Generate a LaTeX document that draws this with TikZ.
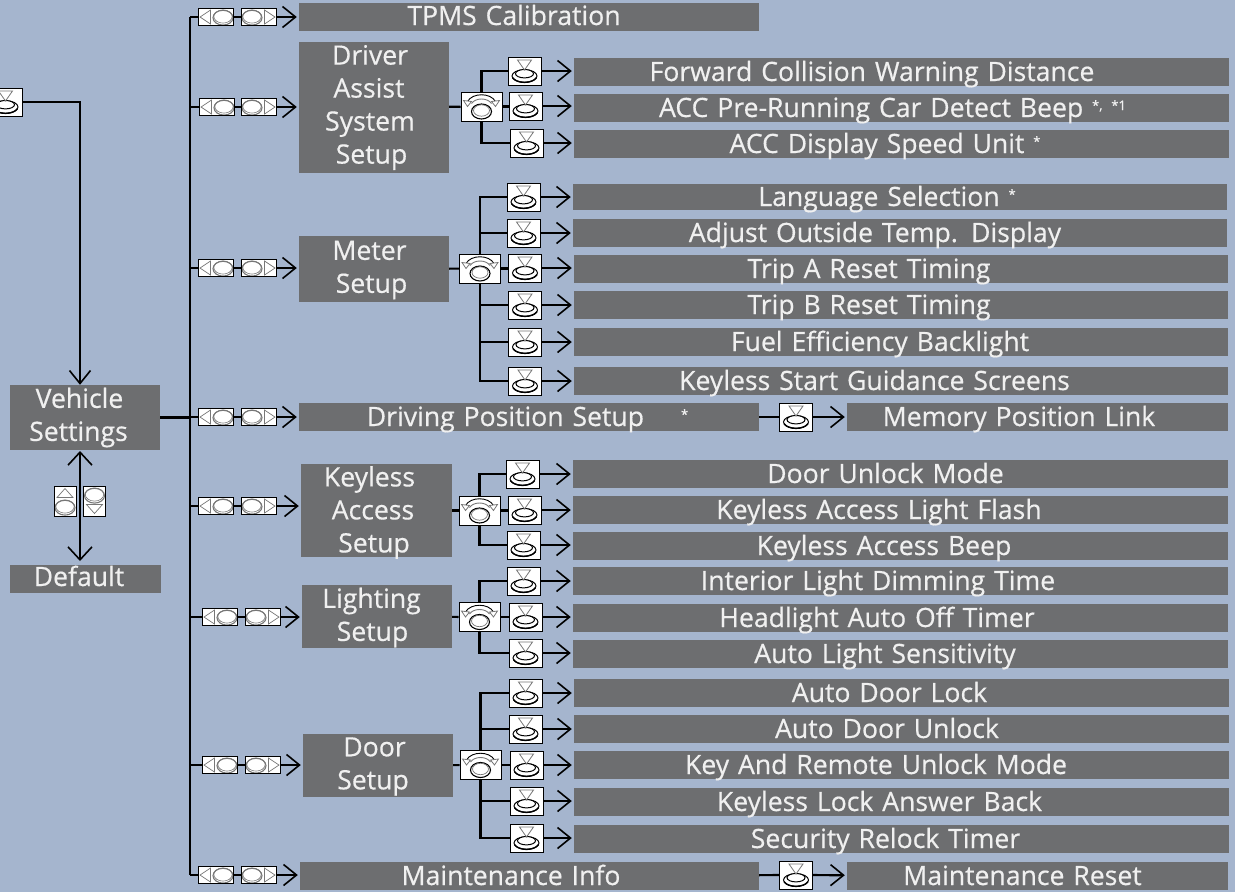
\documentclass[tikz,border=0pt]{standalone}
\usepackage{fontspec}
\setmainfont{Open Sans}
\usetikzlibrary{arrows.meta}
\definecolor{bgc}{HTML}{A5B5CE}
\definecolor{barc}{HTML}{6D6E70}
\definecolor{txtc}{HTML}{F0F0F0}
\definecolor{icog}{HTML}{777777}
\newcommand{\icoPress}{\begin{scope}[shift={(path picture bounding box.center)}]
 \draw[black,line width=1pt] (0,5) ellipse (12.5 and 6.3);
 \draw[black,line width=1.4pt] (-12,6.5) .. controls (-8,13) and (8,13) .. (12,6.5);
 \draw[black,line width=1pt,fill=white] (0,2.7) ellipse (9 and 4.2);
 \draw[icog,line width=.8pt,fill=white] (-7,-11) -- (7,-11) -- (0,-1) -- cycle;
 \end{scope}}
\newcommand{\icoKnob}{\begin{scope}[shift={(path picture bounding box.center)}]
 \draw[black,line width=1.1pt] (0,5) ellipse (10 and 7.5);
 \draw[icog,line width=.7pt] (0,4) ellipse (8 and 5.7);
 \draw[black,line width=.9pt] (-14,-5) .. controls (-9,-14) and (9,-14) .. (14,-5);
 \draw[icog,line width=.9pt] (-10,-3) .. controls (-6,-9) and (6,-9) .. (10,-3);
 \draw[icog,line width=.8pt,fill=white] (-18,-6) -- (-10,-5) -- (-14,0) -- cycle;
 \draw[icog,line width=.8pt,fill=white] (18,-6) -- (10,-5) -- (14,0) -- cycle;
 \end{scope}}
\newcommand{\icoOval}[2]{%
 \draw[icog,line width=1.1pt] (#1,#2+.7) ellipse (10 and 7.4);
 \draw[icog,line width=.6pt] (#1,#2-.5) ellipse (9.2 and 6.6);}
\newcommand{\icoL}{\begin{scope}[shift={(path picture bounding box.center)}]
 \draw[icog,line width=.7pt] (-5.5,-7) -- (-16,0) -- (-5.5,7) -- cycle;\icoOval{7}{0}\end{scope}}
\newcommand{\icoR}{\begin{scope}[shift={(path picture bounding box.center)}]
 \draw[icog,line width=.7pt] (5.5,-7) -- (16,0) -- (5.5,7) -- cycle;\icoOval{-7}{0}\end{scope}}
\newcommand{\icoU}{\begin{scope}[shift={(path picture bounding box.center)}]
 \draw[icog,line width=.7pt] (-8,-3.5) -- (0,-12.5) -- (8,-3.5) -- cycle;\icoOval{0}{6}\end{scope}}
\newcommand{\icoD}{\begin{scope}[shift={(path picture bounding box.center)}]
 \draw[icog,line width=.7pt] (-8,3.5) -- (0,12.5) -- (8,3.5) -- cycle;\icoOval{0}{-6}\end{scope}}
\tikzset{
 x=1pt,y=-1pt,
 link/.style={line width=2.2pt,black},
 toarrow/.style={link,-{Straight Barb[length=13pt,width=21pt,line width=1.6pt]},shorten >=2pt},
 icon/.style={draw=black,line width=1pt,fill=white,inner sep=0pt},
 press/.style={icon,minimum width=33pt,minimum height=28pt,path picture={\icoPress}},
 knob/.style={icon,minimum width=41pt,minimum height=29pt,path picture={\icoKnob}},
 btnl/.style={icon,minimum width=35pt,minimum height=17pt,path picture={\icoL}},
 btnr/.style={icon,minimum width=35pt,minimum height=17pt,path picture={\icoR}},
 btnu/.style={icon,minimum width=22pt,minimum height=30pt,path picture={\icoU}},
 btnd/.style={icon,minimum width=22pt,minimum height=30pt,path picture={\icoD}},
 bar/.style={fill=barc,text=txtc,inner sep=0pt,align=center,font=\fontsize{26.6}{33}\selectfont\addfontfeatures{FakeBold=0.5}},
}
% name, x1, y1, x2, y2, text
\newcommand{\barbox}[6]{\node[bar,minimum width=#4pt-#2pt,minimum height=#5pt-#3pt,text width=#4pt-#2pt] (#1) at ({(#2+#4)/2},{(#3+#5)/2}) {#6};}
% trailing space that moves a line of text off the bar's centre
\newcommand{\sh}[1]{\kern#1pt\relax}
% a one-line label with fixed height and depth, so that every bar sets it alike
\newcommand{\one}[2]{\rule[-4pt]{0pt}{26pt}\smash{#2}\sh{#1}}
\newcommand{\onehigh}[3]{\rule[-#1pt]{0pt}{26pt}\smash{#3}\sh{#2}}
% name, x of left button, x of right button, y, target bar
\newcommand{\menurow}[5]{%
 \node[btnl] (#1L) at (#2,#4) {};
 \node[btnr] (#1R) at (#3,#4) {};
 \draw[link] (trunk |- #1L) -- (#1L);
 \draw[link] (#1L) -- (#1R);
 \draw[toarrow] (#1R) -- (#1R -| #5.west);}
% name, x, y, target bar
\newcommand{\pressrow}[4]{%
 \node[press] (#1) at (#2,#3) {};
 \draw[toarrow] (#1) -- (#1 -| #4.west);}
\newcommand{\supmark}[1]{\raisebox{7pt}{\fontsize{13}{13}\selectfont #1}}
\begin{document}
\begin{tikzpicture}
\useasboundingbox[fill=bgc] (0,0) rectangle (1235,892);
% left column
\barbox{vs}{10}{385}{160}{450}{Vehicle\sh{11}\\Settings\sh{13}}
\barbox{def}{10}{565}{161}{593}{\onehigh{6}{13}{Default}}
\node[press] (entry) at (5.5,102) {};
\coordinate (corner) at (80,102);
\draw[link,-{Straight Barb[length=13pt,width=21pt,line width=1.6pt]}] (entry) -- (corner) -- (corner |- vs.north);
\coordinate (updn) at (80,451);
\coordinate (dnup) at (80,561);
\draw[link,{Straight Barb[length=13pt,width=24pt,line width=1.6pt]}-{Straight Barb[length=13pt,width=24pt,line width=1.6pt]}] (updn) -- (dnup);
\node[btnu] (up) at (65,501) {};
\node[btnd] (dn) at (94.5,501) {};
% trunk
\coordinate (trunk) at (190,17);
\coordinate (trunkend) at (190,875);
\draw[link] (trunk) -- (trunkend);
\draw[link] (vs) -- (vs -| trunk);
% first level bars
\barbox{tpms}{299}{3}{759}{31}{\onehigh{5}{30}{TPMS Calibration}}
\barbox{das}{299}{42}{449}{173}{Driver\sh{8}\\Assist\sh{10}\\System\sh{8}\\Setup\sh{5}}
\barbox{meter}{299}{236}{449}{302}{\rule{0pt}{21pt}Meter\sh{9}\\Setup\sh{5}}
\barbox{dps}{299}{403}{759}{431}{\one{3}{Driving Position Setup\hspace{37pt}\supmark{*}}}
\barbox{kas}{301}{464}{452}{557}{Keyless\sh{14}\\Access\sh{7}\\\smash{Setup}\sh{5}\rule[-2.4pt]{0pt}{0pt}}
\barbox{ls}{302}{585}{452}{648}{\rule{0pt}{22.2pt}Lighting\sh{11}\\Setup\sh{9}}
\barbox{ds}{303}{734}{453}{797}{\rule{0pt}{21pt}Door\sh{7}\\Setup\sh{10}}
\barbox{mi}{300}{862}{759}{890}{\one{37}{Maintenance Info}}
\menurow{a}{216}{259}{17}{tpms}
\menurow{b}{217}{259}{107}{das}
\menurow{c}{216}{259}{268}{meter}
\menurow{d}{216}{259}{417}{dps}
\menurow{e}{216}{259}{506}{kas}
\menurow{f}{220}{263}{617}{ls}
\menurow{g}{220}{263}{765}{ds}
\menurow{h}{216}{259}{875}{mi}
% Driver assist
\barbox{b1}{574}{58}{1229}{86}{\one{59}{Forward Collision Warning Distance}}
\barbox{b2}{574}{94}{1229}{122}{\one{18}{ACC Pre-Running Car Detect Beep \supmark{*, *1}}}
\barbox{b3}{574}{130}{1229}{158}{\one{33}{ACC Display Speed Unit \supmark{*}}}
\node[knob] (kb) at (481.5,106.5) {};
\draw[link] (das) -- (kb);
\pressrow{pb1}{524.5}{71}{b1}
\pressrow{pb2}{525.5}{106}{b2}
\pressrow{pb3}{526.5}{143}{b3}
\draw[link] (kb) |- (pb1);
\draw[link] (kb) -- (kb -| pb2.west);
\draw[link] (kb) |- (pb3);
% Meter
\barbox{c1}{573}{184}{1227}{210}{\one{26}{Language Selection \supmark{*}}}
\barbox{c2}{573}{219}{1227}{247}{\one{50}{Adjust Outside Temp. Display}}
\barbox{c3}{574}{255}{1228}{283}{\one{64}{Trip A Reset Timing}}
\barbox{c4}{574}{291}{1228}{319}{\one{64}{Trip B Reset Timing}}
\barbox{c5}{574}{328}{1228}{356}{\one{42}{Fuel Efficiency Backlight}}
\barbox{c6}{574}{367}{1228}{395}{\one{53}{Keyless Start Guidance Screens}}
\node[knob] (kc) at (480,268.5) {};
\draw[link] (meter) -- (kc);
\pressrow{pc1}{523.5}{197}{c1}
\pressrow{pc2}{523.5}{233}{c2}
\pressrow{pc3}{525}{268}{c3}
\pressrow{pc4}{525}{305}{c4}
\pressrow{pc5}{525}{342}{c5}
\pressrow{pc6}{525}{381}{c6}
\draw[link] (kc) |- (pc1);
\draw[link] (kc |- pc2) -- (pc2);
\draw[link] (kc) -- (kc -| pc3.west);
\draw[link] (kc) |- (pc4);
\draw[link] (kc |- pc5) -- (pc5);
\draw[link] (kc) |- (pc6);
% Driving position
\barbox{d1}{847}{403}{1228}{431}{\one{37}{Memory Position Link}}
\node[press] (pd) at (796,417) {};
\draw[link] (dps) -- (pd);
\draw[toarrow] (pd) -- (d1);
% Keyless
\barbox{e1}{573}{460}{1228}{488}{\one{30}{Door Unlock Mode}}
\barbox{e2}{573}{496}{1228}{524}{\one{43}{Keyless Access Light Flash}}
\barbox{e3}{573}{532}{1228}{560}{\one{33}{Keyless Access Beep}}
\node[knob] (ke) at (479.5,510.5) {};
\draw[link] (kas) -- (ke);
\pressrow{pe1}{522.5}{474}{e1}
\pressrow{pe2}{524.5}{510}{e2}
\pressrow{pe3}{523.5}{545}{e3}
\draw[link] (ke) |- (pe1);
\draw[link] (ke) -- (ke -| pe2.west);
\draw[link] (ke) |- (pe3);
% Lighting
\barbox{f1}{573}{567}{1228}{595}{\one{45}{Interior Light Dimming Time}}
\barbox{f2}{573}{604}{1228}{632}{\one{47}{Headlight Auto Off Timer}}
\barbox{f3}{573}{640}{1228}{668}{\one{31}{Auto Light Sensitivity}}
\node[knob] (kf) at (479.5,617) {};
\draw[link] (ls) -- (kf);
\pressrow{pf1}{523.5}{581}{f1}
\pressrow{pf2}{525.5}{617}{f2}
\pressrow{pf3}{525.5}{653}{f3}
\draw[link] (kf) |- (pf1);
\draw[link] (kf) -- (kf -| pf2.west);
\draw[link] (kf) |- (pf3);
% Door
\barbox{g1}{574}{679}{1229}{707}{\one{24}{Auto Door Lock}}
\barbox{g2}{574}{715}{1229}{743}{\one{29}{Auto Door Unlock}}
\barbox{g3}{574}{751}{1229}{779}{\one{51}{Key And Remote Unlock Mode}}
\barbox{g4}{574}{788}{1229}{816}{\one{44}{Keyless Lock Answer Back}}
\barbox{g5}{574}{825}{1229}{853}{\one{32}{Security Relock Timer}}
\node[knob] (kg) at (480.5,765) {};
\draw[link] (ds) -- (kg);
\pressrow{pg1}{525.5}{693}{g1}
\pressrow{pg2}{525.5}{729}{g2}
\pressrow{pg3}{526.5}{765}{g3}
\pressrow{pg4}{526.5}{801}{g4}
\pressrow{pg5}{526.5}{838}{g5}
\draw[link] (kg) |- (pg1);
\draw[link] (kg |- pg2) -- (pg2);
\draw[link] (kg) -- (kg -| pg3.west);
\draw[link] (kg |- pg4) -- (pg4);
\draw[link] (kg) |- (pg5);
% Maintenance
\barbox{h1}{847}{862}{1228}{890}{\one{30}{Maintenance Reset}}
\node[press] (ph) at (796,875) {};
\draw[link] (mi) -- (ph);
\draw[toarrow] (ph) -- (h1);
\end{tikzpicture}
\end{document}
